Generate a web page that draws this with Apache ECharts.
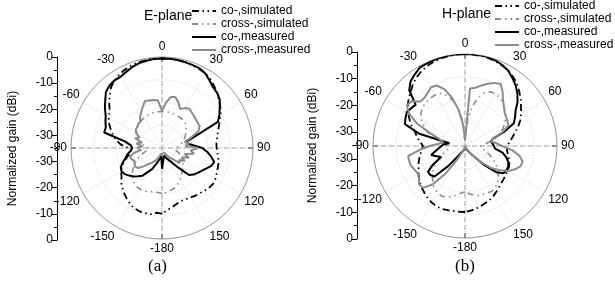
<!DOCTYPE html>
<html><head><meta charset="utf-8">
<script src="https://cdn.jsdelivr.net/npm/echarts@6/dist/echarts.min.js"></script>
<style>html,body{margin:0;padding:0;background:#fff}#c{width:615px;height:299px}</style>
</head><body><div id="c"></div>
<script>
// angles in degrees (0 = broadside), 5 degree steps
const angles = [-180,-175,-170,-165,-160,-155,-150,-145,-140,-135,
 -130,-125,-120,-115,-110,-105,-100,-95,-90,-85,
 -80,-75,-70,-65,-60,-55,-50,-45,-40,-35,
 -30,-25,-20,-15,-10,-5,0,5,10,15,
 20,25,30,35,40,45,50,55,60,65,
 70,75,80,85,90,95,100,105,110,115,
 120,125,130,135,140,145,150,155,160,165,
 170,175,180];

const seriesNames = ['co-,simulated','cross-,simulated','co-,measured','cross-,measured'];
const gainTickLabels = ['0','-10','-20','-30','-30','-20','-10','0'];

// E-plane (dB)
const eCoSim = [-9.8,-10,-9.2,-9.1,-9.2,-9.5,-10.3,-11.3,-12.3,-13.4,
 -14.5,-16,-16.8,-18,-19.5,-21,-22.5,-23,-22,-19,
 -17,-15.5,-14,-12.5,-11.3,-10.5,-8.5,-6.5,-4.5,-3.2,
 -2.3,-1.6,-1.1,-0.8,-0.6,-0.5,-0.5,-0.5,-0.6,-0.8,
 -1.1,-1.4,-1.8,-2.6,-3.8,-5,-6.3,-7.6,-9,-10.5,
 -11.8,-12.8,-13.5,-14,-14,-13.6,-13,-12.5,-12.2,-11.8,
 -11.3,-11,-11.3,-11.8,-12.3,-12.6,-13,-13.3,-13.3,-12.8,
 -12,-11,-9.8];
const eXSim = [-17.5,-17.8,-18,-17.6,-17.2,-17,-17.1,-17.3,-18,-19,
 -20,-21.5,-23,-24.5,-26,-27.5,-29,-30,-30,-29,
 -27.5,-26,-25,-24.3,-23.8,-23.3,-22.8,-22.3,-22,-21.7,
 -21.5,-21.3,-21.2,-21,-21,-21,-21,-21,-21,-21.1,
 -21.2,-21.3,-21.4,-21.5,-21.6,-22,-22.8,-23.8,-24.5,-25.3,
 -26.2,-27,-28,-29,-30,-30,-29.5,-28.5,-27.5,-26.8,
 -26,-25.2,-24.5,-23.7,-23,-22,-21,-20,-19.2,-18.6,
 -18.2,-17.8,-17.5];
const eCoMeas = [-27,-32,-31,-30,-28.5,-26,-24.5,-22,-20.8,-19.5,
 -18.5,-17.5,-17,-17.5,-19,-20.5,-21.5,-23,-23.5,-23,
 -20.5,-12,-12,-11,-10,-8.2,-6.5,-4.5,-3.6,-3.2,
 -3.3,-2.6,-1.8,-1.2,-0.9,-0.6,-0.6,-0.5,-0.6,-0.8,
 -1,-1.1,-1.8,-3.2,-4.5,-5,-6,-7.9,-9.5,-11.3,
 -21,-25,-25,-23,-19.5,-17.5,-15.8,-14.2,-14.8,-16.3,
 -17.4,-18.3,-19.1,-20.3,-25,-28,-29.5,-30.5,-31,-32,
 -32,-32,-27];
const eXMeas = [-33,-32,-33,-32,-31,-30,-29.5,-28,-27,-25,
 -23,-22.5,-22.8,-23.3,-22.5,-22.3,-24,-27,-25.5,-27.5,
 -25,-27,-24,-25.5,-23.5,-22.7,-22.5,-22,-22,-20.3,
 -19,-17.5,-15.8,-16.1,-16.3,-16.6,-20.7,-17.5,-15,-14.8,
 -16.5,-18.5,-17.2,-16.6,-17.2,-17.6,-18,-18.2,-18.3,-19.5,
 -23,-26,-24.5,-26,-21,-24,-22.5,-26,-24,-26.5,
 -25,-27,-26,-28.5,-30,-31.5,-32,-33,-32.5,-33,
 -33.5,-33,-33];

// H-plane (dB)
const hCoSim = [-9.9,-9.9,-9.9,-9.7,-9.5,-9.6,-10,-10.5,-11.3,-12,
 -12.8,-13.7,-14.5,-15.5,-16.2,-17,-17.8,-18.5,-19,-18,
 -16.5,-15.5,-13.5,-11.8,-10,-8.4,-7,-5.8,-4.2,-3,
 -2,-1.3,-0.8,-0.4,-0.2,-0.1,0,-0.1,-0.2,-0.4,
 -0.8,-1.3,-2,-3,-4.2,-5.8,-7.3,-9,-10.3,-11.8,
 -13.5,-15.3,-16.8,-18,-19,-19,-18.5,-17.8,-17,-16.5,
 -16.2,-16,-15.7,-15.3,-14.8,-14,-13.2,-12.5,-12,-11.4,
 -10.8,-10.3,-9.9];
const hXSim = [-17.6,-17,-16,-15,-14.3,-14,-14.3,-15,-16,-17.5,
 -19,-20.5,-22,-24,-26,-27.5,-28.5,-29,-28.5,-27,
 -25,-22.5,-20,-18,-16,-14.5,-13.5,-13,-12.7,-12.5,
 -12.5,-13,-14.5,-17,-20.5,-26,-33,-26,-20,-16,
 -13.5,-12.2,-12,-12.3,-13,-14,-15,-16,-17.5,-19,
 -21,-23,-25.5,-27.5,-29,-29,-28,-26.5,-25,-23,
 -21.5,-20,-18.5,-17,-16,-15.2,-15,-15.2,-15.4,-15.5,
 -16,-16.8,-17.6];
const hCoMeas = [-34,-34,-34,-33.5,-33,-32.5,-32,-30,-25,-18.6,
 -17.8,-17.8,-21,-25,-23.5,-21.7,-23.5,-25,-26,-27,
 -29,-17,-10.7,-10,-9.4,-10,-10.5,-5,-2.8,-1.7,
 -0.6,-0.4,-0.2,-0.1,0,0,0,0,0,-0.1,
 -0.5,-1.1,-2,-3.5,-5,-6.8,-8.9,-11.5,-13,-14.5,
 -19,-24,-25,-24.5,-24,-23.5,-20.5,-18.8,-17.5,-16.8,
 -16.7,-17,-19.5,-25,-30,-32,-33,-33.5,-34,-34,
 -34,-34,-34];
const hXMeas = [-35,-35,-34,-34,-33,-32,-29,-22.5,-16,-12.5,
 -12.2,-13.6,-14.2,-13.8,-13.1,-13,-13,-17.5,-21.5,-25,
 -26.5,-25,-21,-15,-10.5,-8,-8.5,-11,-11,-10.3,
 -9.2,-9.6,-12,-16,-21,-27,-33,-13,-12.5,-11.2,
 -9.8,-8.5,-7.8,-10,-12.5,-14,-15.3,-15.9,-16.3,-16.8,
 -20,-24,-25,-23,-21,-17,-14,-12.3,-12.5,-14,
 -16,-19,-22,-26,-30,-32,-33,-34,-34,-35,
 -35,-35,-35];

const FONT = 'Liberation Sans, Arial, sans-serif';
const chart = echarts.init(document.getElementById('c'), null, {renderer:'canvas'});

function polarSeries(name, vals, polarIndex, color, dash, width, z) {
  return {
    type:'line', name, coordinateSystem:'polar', polarIndex,
    data: angles.map((a,i)=>[vals[i], a]),
    symbol:'none', smooth:false, silent:true, animation:false, z,
    lineStyle:{color, width, type:dash},
    itemStyle:{color}
  };
}

function angleMain(pi) {
  return {polarIndex:pi, type:'value', min:-180, max:180, interval:30, startAngle:270, clockwise:true,
    axisLine:{show:true, lineStyle:{color:'#9a9a9a', width:1}},
    axisTick:{show:false},
    axisLabel:{show:true, color:'#000', fontSize:12, fontFamily:FONT, margin:4},
    splitLine:{show:true, lineStyle:{color:'#cfcfcf', width:1, type:[1,2]}}};
}
function angleCross(pi) {
  return {polarIndex:pi, type:'value', min:-180, max:180, interval:90, startAngle:270, clockwise:true,
    axisLine:{show:false},
    axisTick:{show:true, inside:true, length:5, lineStyle:{color:'#000'}},
    axisLabel:{show:false},
    splitLine:{show:true, lineStyle:{color:'#a8a8a8', width:1, type:[5,3]}}};
}
function radiusMain(pi) {
  return {polarIndex:pi, type:'value', min:-35, max:0, interval:8.75,
    axisLine:{show:false}, axisTick:{show:false}, axisLabel:{show:false},
    splitLine:{show:true, lineStyle:{color:'#cfcfcf', width:1, type:[1,2]}}};
}
function radiusHidden(pi) {
  return {polarIndex:pi, type:'value', min:-35, max:0,
    axisLine:{show:false}, axisTick:{show:false}, axisLabel:{show:false}, splitLine:{show:false}};
}
function sideAxis(gi) {
  return {gridIndex:gi, type:'value', min:0, max:70, interval:10, position:'left',
    axisLine:{show:true, lineStyle:{color:'#000', width:1}},
    axisTick:{show:true, length:5, lineStyle:{color:'#000'}},
    minorTick:{show:true, splitNumber:2, length:3, lineStyle:{color:'#000'}},
    splitLine:{show:false},
    axisLabel:{color:'#000', fontSize:12, fontFamily:FONT, margin:4,
      formatter:(v)=>gainTickLabels[Math.round(v/10)]},
    name:'Normalized gain (dBi)', nameLocation:'middle', nameGap:38,
    nameTextStyle:{color:'#000', fontSize:12, fontFamily:FONT}};
}

const styles = [
  {color:'#000', dash:[7,3.5,1.5,3.5,1.5,3.5], width:1.8},
  {color:'#8c8c8c', dash:[6,4,1.5,4,1.5,4], width:1.6},
  {color:'#000', dash:'solid', width:2},
  {color:'#8c8c8c', dash:'solid', width:2}
];
const eData = [eCoSim, eXSim, eCoMeas, eXMeas];
const hData = [hCoSim, hXSim, hCoMeas, hXMeas];
const series = [];
eData.forEach((d,k)=>series.push(polarSeries(seriesNames[k], d, 0, styles[k].color, styles[k].dash, styles[k].width, 2+k)));
hData.forEach((d,k)=>series.push(polarSeries(seriesNames[k], d, 2, styles[k].color, k===0?[7,3.5,1.5,3.5]:styles[k].dash, styles[k].width, 2+k)));

const legendBase = {orient:'vertical', itemWidth:24, itemHeight:13, itemGap:1, padding:0,
  selectedMode:false, itemStyle:{opacity:0, borderWidth:0},
  textStyle:{color:'#000', fontSize:12, fontFamily:FONT}, data:seriesNames};

chart.setOption({
  animation:false,
  backgroundColor:'#fff',
  title:[
    {text:'E-plane', left:144, top:9, padding:0, textStyle:{fontSize:14, fontWeight:'normal', color:'#000', fontFamily:FONT}},
    {text:'H-plane', left:442, top:7, padding:0, textStyle:{fontSize:14, fontWeight:'normal', color:'#000', fontFamily:FONT}},
    {text:'(a)', left:148, top:258, padding:0, textStyle:{fontSize:17, fontWeight:'normal', color:'#000', fontFamily:'Liberation Serif, Times New Roman, serif'}},
    {text:'(b)', left:455, top:258, padding:0, textStyle:{fontSize:17, fontWeight:'normal', color:'#000', fontFamily:'Liberation Serif, Times New Roman, serif'}}
  ],
  legend:[
    Object.assign({}, legendBase, {left:191, top:5}),
    Object.assign({}, legendBase, {left:494, top:0})
  ],
  polar:[
    {center:[162,148], radius:91},
    {center:[162,148], radius:91},
    {center:[465,146], radius:92},
    {center:[465,146], radius:92}
  ],
  angleAxis:[angleMain(0), angleCross(1), angleMain(2), angleCross(3)],
  radiusAxis:[radiusMain(0), radiusHidden(1), radiusMain(2), radiusHidden(3)],
  grid:[
    {left:57, top:57, width:1, height:183, show:false},
    {left:357, top:52, width:1, height:187, show:false}
  ],
  xAxis:[{gridIndex:0, type:'value', show:false}, {gridIndex:1, type:'value', show:false}],
  yAxis:[sideAxis(0), sideAxis(1)],
  series
});
</script>
</body></html>
